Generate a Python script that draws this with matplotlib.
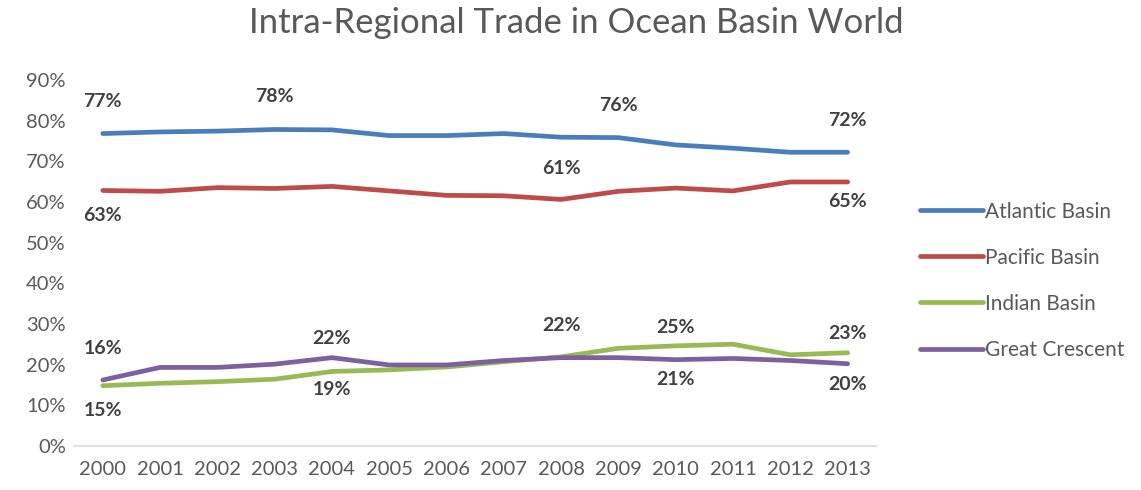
import numpy as np
import matplotlib.pyplot as plt

plt.rcParams['font.family'] = ['Lato', 'DejaVu Sans']

years = np.arange(2000, 2014)
atlantic = [76.8, 77.2, 77.4, 77.8, 77.7, 76.3, 76.3, 76.8, 75.9, 75.8, 74.0, 73.2, 72.2, 72.2]
pacific = [62.8, 62.6, 63.5, 63.3, 63.8, 62.7, 61.6, 61.5, 60.6, 62.6, 63.4, 62.7, 64.9, 64.9]
indian = [14.8, 15.4, 15.8, 16.4, 18.3, 18.7, 19.4, 20.7, 21.9, 24.0, 24.6, 25.0, 22.4, 22.9]
crescent = [16.2, 19.3, 19.3, 20.1, 21.7, 19.9, 19.9, 21.0, 21.7, 21.7, 21.2, 21.5, 21.0, 20.2]

names = ['Atlantic Basin', 'Pacific Basin', 'Indian Basin', 'Great Crescent']
colors = ['#4a7ebb', '#be4b48', '#98b954', '#7d60a0']

# (series index, year, label, offset in points)
labels = [
    (0, 2000, '77%', 23), (0, 2003, '78%', 24), (0, 2009, '76%', 23), (0, 2013, '72%', 23),
    (1, 2000, '63%', -18), (1, 2008, '61%', 22), (1, 2013, '65%', -14),
    (2, 2000, '15%', -18), (2, 2004, '19%', -13), (2, 2010, '25%', 13), (2, 2013, '23%', 14),
    (3, 2000, '16%', 23), (3, 2004, '22%', 14), (3, 2008, '22%', 23), (3, 2010, '21%', -14),
    (3, 2013, '20%', -15),
]

fig = plt.figure(figsize=(11.41, 4.9), dpi=100)
ax = fig.add_axes([0.065, 0.09, 0.703, 0.747])

series = [atlantic, pacific, indian, crescent]
for vals, name, c in zip(series, names, colors):
    ax.plot(years, vals, color=c, lw=3.4, label=name, solid_capstyle='round')

for i, yr, txt, off in labels:
    v = series[i][yr - 2000]
    ax.annotate(txt, (yr, v), xytext=(0, off), textcoords='offset points',
                ha='center', va='center', fontsize=14, fontweight='bold',
                color='#404040')

ax.set_xlim(1999.5, 2013.5)
ax.set_ylim(0, 90)
ax.set_xticks(years)
ax.set_yticks(np.arange(0, 91, 10))
ax.set_yticklabels([f'{t}%' for t in range(0, 91, 10)])
ax.tick_params(length=0, labelsize=14.5, colors='#595959')
ax.tick_params(axis='x', pad=11)
ax.tick_params(axis='y', pad=6)
for s in ['top', 'right', 'left']:
    ax.spines[s].set_visible(False)
ax.spines['bottom'].set_color('#d9d9d9')
ax.spines['bottom'].set_linewidth(1.2)

fig.suptitle('Intra-Regional Trade in Ocean Basin World', x=0.505, y=0.985,
             fontsize=25, color='#595959')

leg = fig.legend(loc='center left', bbox_to_anchor=(0.79, 0.427), frameon=False,
                 fontsize=15, handlelength=3.0, handletextpad=0.1, labelspacing=1.25,
                 labelcolor='#595959')

fig.savefig('out.png', dpi=100)
